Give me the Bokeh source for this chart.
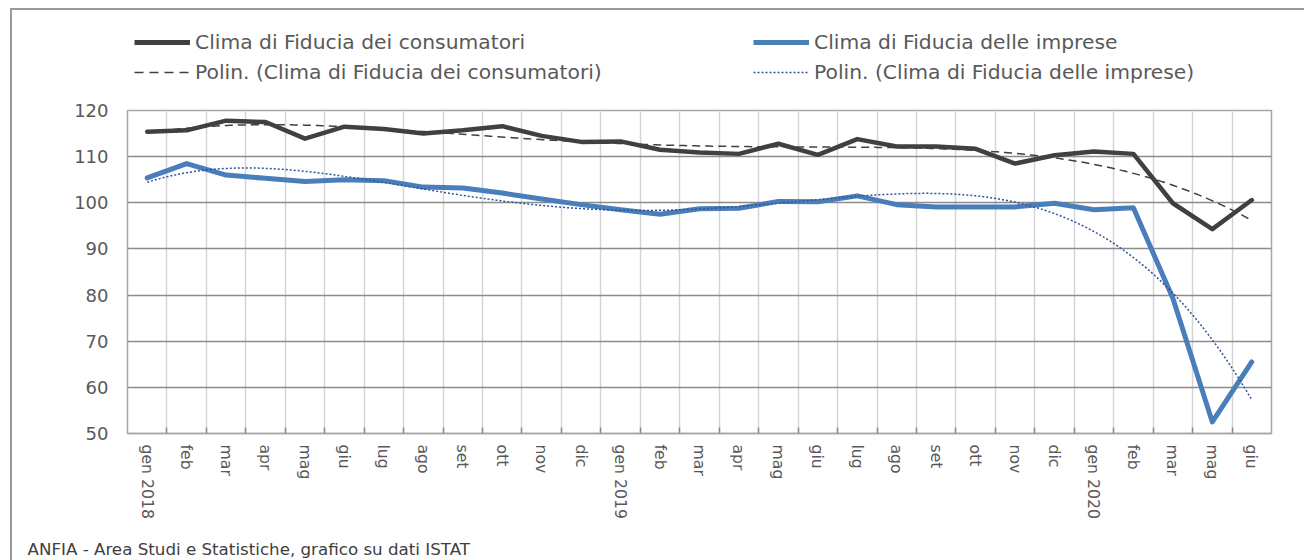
import numpy as np
from bokeh.plotting import figure
from bokeh.layouts import column
from bokeh.models import FixedTicker, Range1d, Legend, LegendItem, Title
from bokeh.embed import file_html
from bokeh.resources import INLINE

# ---- data ----
mesi = ["gen 2018", "feb", "mar", "apr", "mag", "giu", "lug", "ago", "set", "ott", "nov", "dic",
        "gen 2019", "feb", "mar", "apr", "mag", "giu", "lug", "ago", "set", "ott", "nov", "dic",
        "gen 2020", "feb", "mar", "mag", "giu"]
consumatori = [115.4, 115.7, 117.8, 117.5, 113.9, 116.5, 116.0, 115.0, 115.7, 116.6, 114.5, 113.2,
               113.3, 111.5, 110.9, 110.6, 112.8, 110.4, 113.8, 112.2, 112.2, 111.7, 108.5, 110.3,
               111.1, 110.6, 99.9, 94.3, 100.6]
imprese = [105.4, 108.5, 106.0, 105.3, 104.6, 105.0, 104.8, 103.4, 103.2, 102.1, 100.8, 99.6,
           98.5, 97.5, 98.7, 98.8, 100.3, 100.2, 101.5, 99.6, 99.1, 99.1, 99.1, 99.9,
           98.5, 98.9, 79.3, 52.5, 65.5]
y_ticks = [50, 60, 70, 80, 90, 100, 110, 120]
label_cons = "Clima di Fiducia dei consumatori"
label_imp = "Clima di Fiducia delle imprese"
label_cons_t = "Polin. (Clima di Fiducia dei consumatori)"
label_imp_t = "Polin. (Clima di Fiducia delle imprese)"
fonte = "ANFIA - Area Studi e Statistiche, grafico su dati ISTAT"
poly_order = 4  # Excel polynomial trendline order

# ---- layout / style ----
FL, FR, FT, FB = 127, 1271, 110, 433   # plot frame in page pixels
OX, OY = 12, 10                         # inside the outer border
TOP_H = 95                              # legend strip ends here
FOOT_Y = 536                            # footer strip starts here
W = 1304 - OX
FONT = "DejaVu Sans"
TXT = "#595959"
C_CONS = "#404040"
C_IMP = "#4a7ebb"
C_IMP_T = "#2f5597"

x = np.arange(len(mesi))

main = figure(width=W, height=FOOT_Y - TOP_H, output_backend="svg", toolbar_location=None,
              x_range=Range1d(-0.5, len(mesi) - 0.5), y_range=Range1d(50, 120),
              min_border_left=FL - OX, min_border_right=1304 - FR, min_border_top=FT - TOP_H,
              min_border_bottom=FOOT_Y - FB)
main.outline_line_color = "#a6a6a6"
main.outline_line_width = 1.5

main.xgrid.ticker = FixedTicker(ticks=[i + 0.5 for i in range(len(mesi) - 1)])
main.xgrid.grid_line_color = "#d4d4d4"
main.xgrid.grid_line_width = 1.5
main.ygrid.ticker = FixedTicker(ticks=y_ticks)
main.ygrid.grid_line_color = "#8c8c8c"
main.ygrid.grid_line_width = 1.5

main.xaxis.ticker = FixedTicker(ticks=list(x), minor_ticks=[i + 0.5 for i in range(len(mesi) - 1)])
main.xaxis.major_label_overrides = {int(i): m for i, m in zip(x, mesi)}
main.xaxis.major_label_orientation = "vertical"
main.xaxis.major_tick_line_color = None
main.xaxis.major_tick_out = 0
main.xaxis.major_tick_in = 0
main.xaxis.minor_tick_line_color = "#8c8c8c"
main.xaxis.minor_tick_line_width = 1.5
main.xaxis.minor_tick_in = 6
main.xaxis.minor_tick_out = 0
main.xaxis.axis_line_color = "#a6a6a6"
main.xaxis.axis_line_width = 1.5
main.xaxis.major_label_standoff = 11
main.xaxis.major_label_text_font = FONT
main.xaxis.major_label_text_font_size = "15.7px"
main.xaxis.major_label_text_color = TXT

main.yaxis.ticker = FixedTicker(ticks=y_ticks)
main.yaxis.major_tick_line_color = None
main.yaxis.minor_tick_line_color = None
main.yaxis.major_tick_out = 0
main.yaxis.axis_line_color = None
main.yaxis.major_label_standoff = 19
main.yaxis.major_label_text_font = FONT
main.yaxis.major_label_text_font_size = "18px"
main.yaxis.major_label_text_color = TXT

# series
main.line(x, consumatori, line_color=C_CONS, line_width=4.5, line_join="round", line_cap="round")
main.line(x, imprese, line_color=C_IMP, line_width=5, line_join="round", line_cap="round")

# polynomial trendlines fitted on the series (as Excel "Polin.")
xf = np.linspace(0, len(mesi) - 1, 400)
fit_c = np.polynomial.Polynomial.fit(x, consumatori, poly_order)
fit_i = np.polynomial.Polynomial.fit(x, imprese, poly_order)
main.line(xf, fit_c(xf), line_color=C_CONS, line_width=1.5, line_dash="8 5")
main.line(xf, fit_i(xf), line_color=C_IMP_T, line_width=1.5, line_dash="2 2")

# ---- legend strip ----
top = figure(width=W, height=TOP_H - OY, output_backend="svg", toolbar_location=None,
             x_range=Range1d(0, 1), y_range=Range1d(0, 1), min_border=0,
             x_axis_location=None, y_axis_location=None, outline_line_color=None)
top.grid.visible = False
r1 = top.line([-10, -9], [-10, -10], line_color=C_CONS, line_width=5)
r2 = top.line([-10, -9], [-10, -10], line_color=C_CONS, line_width=1.5, line_dash="9 6")
r3 = top.line([-10, -9], [-10, -10], line_color=C_IMP, line_width=5)
r4 = top.line([-10, -9], [-10, -10], line_color=C_IMP_T, line_width=1.5, line_dash="2 2")
leg = Legend(items=[LegendItem(label=label_cons, renderers=[r1]),
                    LegendItem(label=label_cons_t, renderers=[r2]),
                    LegendItem(label=label_imp, renderers=[r3]),
                    LegendItem(label=label_imp_t, renderers=[r4])],
             ncols=2, location=(134 - FL, TOP_H - 87), glyph_width=56, glyph_height=30,
             label_height=30, label_width=558, label_standoff=5, spacing=0, padding=0, margin=0,
             border_line_color=None, background_fill_alpha=0,
             label_text_font=FONT, label_text_font_size="20.3px", label_text_color=TXT)
top.add_layout(leg)

# ---- footer strip (source note) ----
foot = figure(width=W, height=560 - FOOT_Y, output_backend="svg", toolbar_location=None,
              x_range=Range1d(0, 1), y_range=Range1d(0, 1), min_border=0,
              x_axis_location=None, y_axis_location=None, outline_line_color=None)
foot.grid.visible = False
foot.add_layout(Title(text=fonte, align="left", offset=27 - FL, standoff=0,
                      text_font=FONT, text_font_size="16.7px", text_font_style="normal",
                      text_color="#404040"), "above")

lay = column(top, main, foot, spacing=0,
             styles={"margin-left": "10px", "margin-top": "8px",
                     "border-left": "2px solid #9a9a9a", "border-top": "2px solid #9a9a9a"})
open("out.html", "w").write(file_html(lay, INLINE))
